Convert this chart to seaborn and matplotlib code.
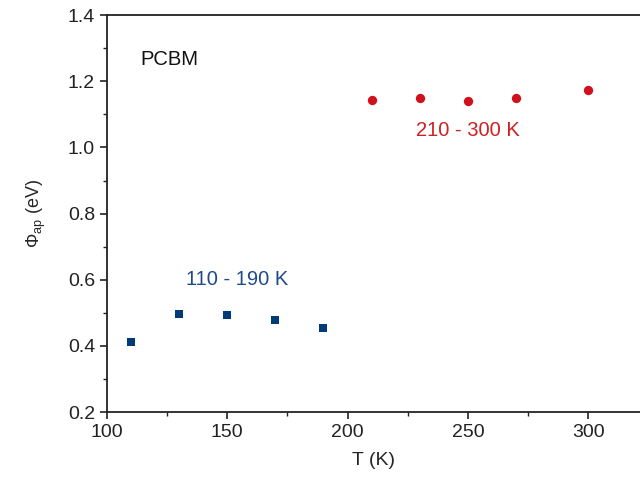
import matplotlib
matplotlib.use('Agg')
import matplotlib.pyplot as plt
from matplotlib.ticker import MultipleLocator
import pandas as pd
import seaborn as sns

# low temperature regime
t_low = [110, 130, 150, 170, 190]
phi_low = [0.412, 0.496, 0.494, 0.478, 0.453]
# high temperature regime
t_high = [210, 230, 250, 270, 300]
phi_high = [1.143, 1.150, 1.141, 1.148, 1.175]

blue = '#003a78'
red = '#d0101a'

sns.set_style('ticks')
plt.rcParams['font.family'] = ['Liberation Sans', 'DejaVu Sans']
plt.rcParams['mathtext.fontset'] = 'custom'
plt.rcParams['mathtext.rm'] = 'Liberation Sans'

fig = plt.figure(figsize=(6.4, 4.86), dpi=100)
ax = fig.add_axes([0.167, 0.152, 0.833, 0.817])

df_low = pd.DataFrame({'T': t_low, 'phi': phi_low})
df_high = pd.DataFrame({'T': t_high, 'phi': phi_high})
sns.scatterplot(data=df_low, x='T', y='phi', marker='s', s=40, color=blue,
                edgecolor=blue, linewidth=0, ax=ax)
sns.scatterplot(data=df_high, x='T', y='phi', marker='o', s=45, color=red,
                edgecolor=red, linewidth=0, ax=ax)

ax.set_xlim(100, 321.5)
ax.set_ylim(0.2, 1.4)
ax.xaxis.set_major_locator(MultipleLocator(50))
ax.xaxis.set_minor_locator(MultipleLocator(25))
ax.yaxis.set_major_locator(MultipleLocator(0.2))
ax.yaxis.set_minor_locator(MultipleLocator(0.1))
ax.yaxis.set_major_formatter(matplotlib.ticker.FormatStrFormatter('%.1f'))

ax.tick_params(which='major', direction='out', length=5, width=1.2,
               labelsize=14, colors='#222222')
ax.tick_params(which='minor', direction='out', length=3, width=1.0,
               colors='#222222')
for side in ['left', 'bottom', 'top']:
    ax.spines[side].set_visible(True)
    ax.spines[side].set_linewidth(1.3)
    ax.spines[side].set_color('#222222')
ax.spines['right'].set_visible(False)

ax.set_xlabel('T (K)', fontsize=14, labelpad=8)
ax.set_ylabel(r'$\Phi_{\mathrm{ap}}$ (eV)', fontsize=13, labelpad=14)

ax.text(114, 1.265, 'PCBM', fontsize=14.5, va='center', color='#111111')
ax.text(133, 0.602, '110 - 190 K', fontsize=14.5, va='center', color='#1f4a8a')
ax.text(228.5, 1.052, '210 - 300 K', fontsize=14.5, va='center', color='#d02020')

fig.savefig('out.png', dpi=100)
